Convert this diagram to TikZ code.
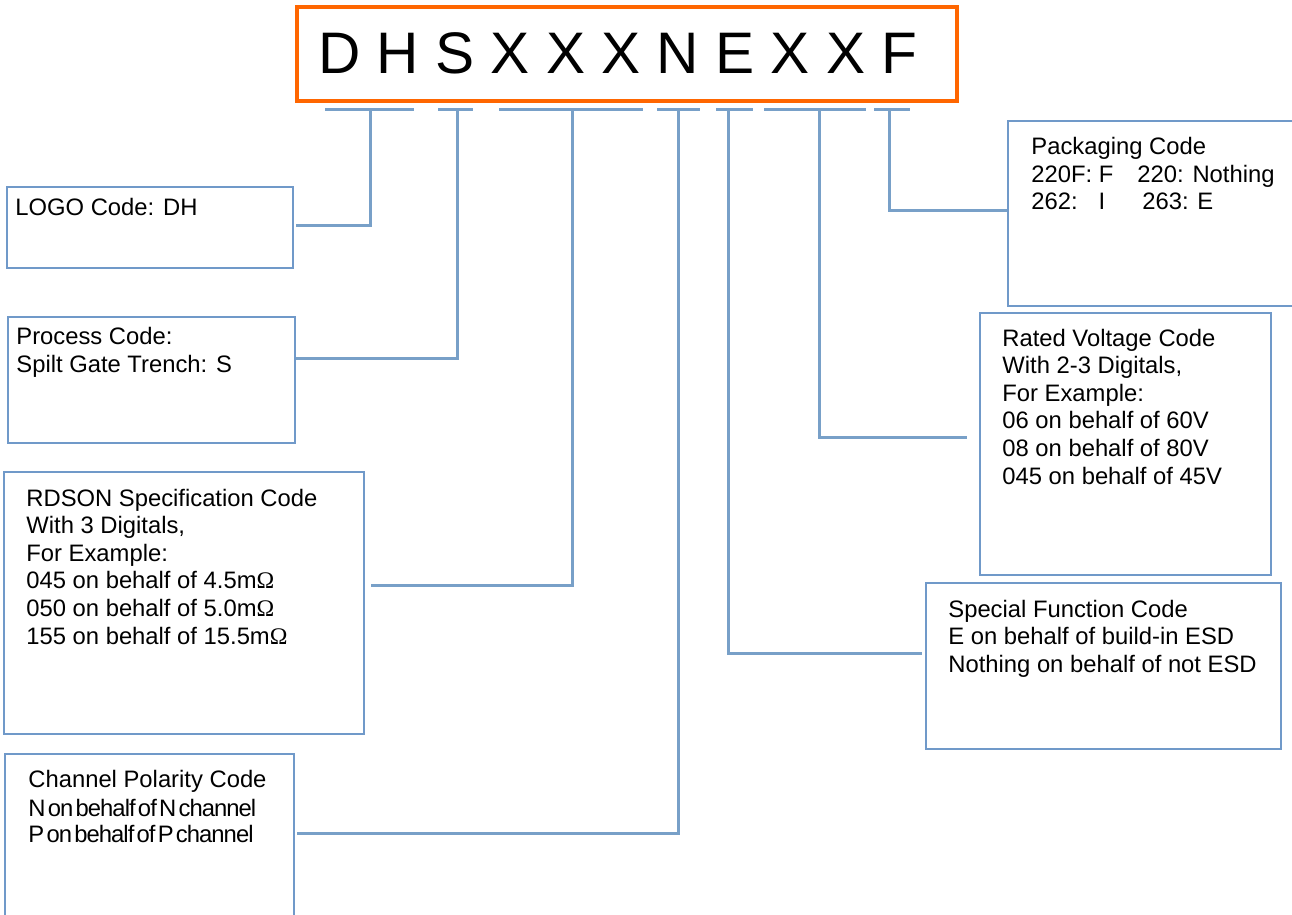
\documentclass[tikz,border=0pt]{standalone}
\usepackage{fontspec}
\setmainfont{Liberation Sans}
\newfontfamily\omegafont{Liberation Serif}
\newfontfamily\tightfont[LetterSpace=-4,WordSpace=0.4]{Liberation Sans}
\newcommand{\mohm}{m{\omegafont Ω}}

\definecolor{boxblue}{RGB}{112,153,201}
\definecolor{linkblue}{RGB}{120,160,200}
\definecolor{frameorange}{RGB}{255,102,0}

\tikzset{
  codebox/.style={draw=boxblue, line width=1.4pt, inner sep=0pt},
  link/.style={draw=linkblue, line width=1.5pt},
  txt/.style={anchor=base west, inner sep=0pt, font=\fontsize{11.9pt}{13.8pt}\selectfont},
}

\begin{document}
\begin{tikzpicture}[x=0.5pt, y=-0.5pt]
	\useasboundingbox (0,0) rectangle (1292,915);
	\clip (0,0) rectangle (1292,915);

	% part number
	\node[draw=frameorange, line width=1.7pt, minimum width=330pt, minimum height=47pt, inner sep=0pt] (frame) at (627,54) {};
	\node[anchor=base west, inner sep=0pt, font=\fontsize{29.3pt}{35pt}\selectfont] (code) at (318,74) {D H S X X X N E X X F};

	% boxes
	\node[codebox, minimum width=143pt, minimum height=40.5pt] (logo) at (150,227.5) {};
	\node[codebox, minimum width=143.5pt, minimum height=63pt] (proc) at (151.5,380) {};
	\node[codebox, minimum width=180pt, minimum height=131pt] (rdson) at (184,603) {};
	\node[codebox, minimum width=144.5pt, minimum height=93pt] (chan) at (149.5,847) {};
	\node[codebox, minimum width=151pt, minimum height=92.5pt] (pack) at (1159,213.5) {};
	\node[codebox, minimum width=145.5pt, minimum height=131pt] (volt) at (1125.5,444) {};
	\node[codebox, minimum width=177.5pt, minimum height=83pt] (func) at (1103.5,666) {};

	% texts
	\node[txt] (logo-0) at (15,215) {LOGO Code: DH};
	\foreach \t [count=\i from 0] in {Process Code:, Spilt Gate Trench: S}
		\node[txt] (proc-\i) at (16,344+28*\i) {\t};
	\foreach \t [count=\i from 0] in {RDSON Specification Code, {With 3 Digitals,}, For Example:,
		045 on behalf of 4.5\mohm, 050 on behalf of 5.0\mohm, 155 on behalf of 15.5\mohm}
		\node[txt] (rdson-\i) at (26,506+27.6*\i) {\t};
	\node[txt] (chan-0) at (28,787) {Channel Polarity Code};
	\node[txt] (chan-1) at (28,816) {\tightfont N on behalf of N channel};
	\node[txt] (chan-2) at (28,842) {\tightfont P on behalf of P channel};
	\foreach \t [count=\i from 0] in {Packaging Code, 220F: F\hspace{12pt}220: Nothing,
		262:\hspace{10.5pt}I\hspace{18.5pt}263: E}
		\node[txt] (pack-\i) at (1031,155+27.5*\i) {\t};
	\foreach \t [count=\i from 0] in {Rated Voltage Code, {With 2-3 Digitals,}, For Example:,
		06 on behalf of 60V, 08 on behalf of 80V, 045 on behalf of 45V}
		\node[txt] (volt-\i) at (1002,346+27.6*\i) {\t};
	\foreach \t [count=\i from 0] in {Special Function Code, E on behalf of build-in ESD,
		Nothing on behalf of not ESD}
		\node[txt] (func-\i) at (948,617+27.5*\i) {\t};

	% underlines and leaders
	\foreach \a/\b/\s/\j/\n/\side/\g in {
		325/414/370/226/logo/east/1pt,
		438/473/457/358/proc/east/0pt,
		499/643/572/585/rdson/east/3pt,
		657/700/678/833/chan/east/1pt,
		716/753/728/653/func/west/1.5pt,
		764/866/819/437/volt/west/6pt,
		874/910/889/211/pack/west/0pt}
	{
		\coordinate (l-\n) at (\a,110);
		\coordinate (r-\n) at (\b,110);
		\coordinate (s-\n) at (\s,110);
		\draw[link] (l-\n) -- (r-\n);
		\draw[link, shorten >=\g] (s-\n) |- (\n.\side |- 0,\j);
	}
\end{tikzpicture}
\end{document}
